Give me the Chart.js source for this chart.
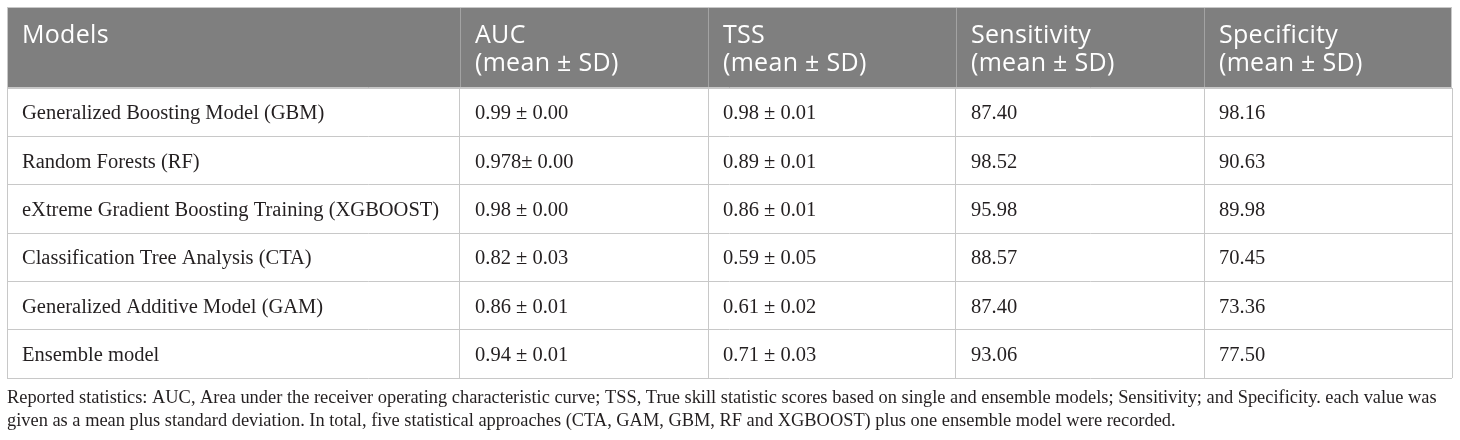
<!DOCTYPE html>
<html>
<head>
<meta charset="utf-8">
<title>Model performance table</title>
<script src="https://cdn.jsdelivr.net/npm/chart.js@4.4.1/dist/chart.umd.min.js"></script>
<style>
  body { margin: 0; background: #fff; }
  canvas { display: block; }
</style>
</head>
<body>
<canvas id="tableChart" width="1460" height="440"></canvas>
<script>
// table content
const models = [
  'Generalized Boosting Model (GBM)',
  'Random Forests (RF)',
  'eXtreme Gradient Boosting Training (XGBOOST)',
  'Classification Tree Analysis (CTA)',
  'Generalized Additive Model (GAM)',
  'Ensemble model'
];
const auc = ['0.99 ± 0.00', '0.978± 0.00', '0.98 ± 0.00', '0.82 ± 0.03', '0.86 ± 0.01', '0.94 ± 0.01'];
const tss = ['0.98 ± 0.01', '0.89 ± 0.01', '0.86 ± 0.01', '0.59 ± 0.05', '0.61 ± 0.02', '0.71 ± 0.03'];
const sensitivity = [87.40, 98.52, 95.98, 88.57, 87.40, 93.06];
const specificity = [98.16, 90.63, 89.98, 70.45, 73.36, 77.50];

const headers = [
  ['Models'],
  ['AUC', '(mean ± SD)'],
  ['TSS', '(mean ± SD)'],
  ['Sensitivity', '(mean ± SD)'],
  ['Specificity', '(mean ± SD)']
];
const footnote = [
  'Reported statistics: AUC, Area under the receiver operating characteristic curve; TSS, True skill statistic scores based on single and ensemble models; Sensitivity; and Specificity. each value was',
  'given as a mean plus standard deviation. In total, five statistical approaches (CTA, GAM, GBM, RF and XGBOOST) plus one ensemble model were recorded.'
];

// layout
const colWidths = [453, 248, 248, 248, 248];
const colEdges = [0];
colWidths.forEach(w => colEdges.push(colEdges[colEdges.length - 1] + w));
const headerHeight = 81;
const lineColor = '#c8c8c8';

const columns = [
  models,
  auc,
  tss,
  sensitivity.map(v => v.toFixed(2)),
  specificity.map(v => v.toFixed(2))
];

const tablePlugin = {
  id: 'tableCells',
  beforeDraw(chart) {
    const { ctx, chartArea, scales } = chart;
    const x = scales.x;
    const top = chartArea.top - headerHeight;

    // header band
    ctx.save();
    ctx.fillStyle = '#7f7f7f';
    ctx.fillRect(chartArea.left, top, chartArea.right - chartArea.left, headerHeight);
    ctx.strokeStyle = '#a3a3a3';
    ctx.lineWidth = 1;
    for (let i = 1; i < colEdges.length - 1; i++) {
      const px = Math.round(x.getPixelForValue(colEdges[i])) + 0.5;
      ctx.beginPath();
      ctx.moveTo(px, top);
      ctx.lineTo(px, chartArea.top);
      ctx.stroke();
    }
    // outer frame of header
    ctx.strokeStyle = lineColor;
    ctx.strokeRect(chartArea.left + 0.5, top + 0.5, chartArea.right - chartArea.left - 1, headerHeight);
    ctx.restore();
  },
  afterDraw(chart) {
    const { ctx, chartArea, scales } = chart;
    const x = scales.x, y = scales.y;
    const top = chartArea.top - headerHeight;

    ctx.save();
    // header text
    ctx.fillStyle = '#ffffff';
    ctx.font = '25px "Open Sans"';
    ctx.letterSpacing = '0.3px';
    ctx.textBaseline = 'alphabetic';
    headers.forEach((lines, c) => {
      const px = x.getPixelForValue(colEdges[c]) + 15;
      lines.forEach((t, k) => ctx.fillText(t, px, top + 36 + k * 28));
    });
    ctx.letterSpacing = '0px';

    // body cells
    ctx.fillStyle = '#231f20';
    ctx.font = '20.5px "Liberation Serif"';
    columns.forEach((col, c) => {
      const px = x.getPixelForValue(colEdges[c]) + 15;
      col.forEach((t, r) => {
        ctx.fillText(t, px, y.getPixelForValue(r) + 7);
      });
    });

    // footnote
    ctx.font = '18.4px "Liberation Serif"';
    footnote.forEach((t, k) => ctx.fillText(t, chartArea.left, chartArea.bottom + 25 + k * 23));
    ctx.restore();
  }
};

new Chart(document.getElementById('tableChart'), {
  type: 'bar',
  data: {
    labels: models,
    datasets: []
  },
  options: {
    responsive: false,
    animation: false,
    indexAxis: 'y',
    layout: { padding: { top: 88, left: 7, right: 8, bottom: 62 } },
    plugins: {
      legend: { display: false },
      tooltip: { enabled: false }
    },
    scales: {
      x: {
        type: 'linear',
        min: 0,
        max: colEdges[colEdges.length - 1],
        afterBuildTicks: scale => {
          scale.ticks = colEdges.map(v => ({ value: v }));
        },
        ticks: { display: false },
        grid: { color: lineColor, drawTicks: false },
        border: { display: false }
      },
      y: {
        type: 'category',
        offset: true,
        ticks: { display: false },
        grid: { color: lineColor, drawTicks: false, offset: true },
        border: { display: false }
      }
    }
  },
  plugins: [tablePlugin]
});
</script>
</body>
</html>
